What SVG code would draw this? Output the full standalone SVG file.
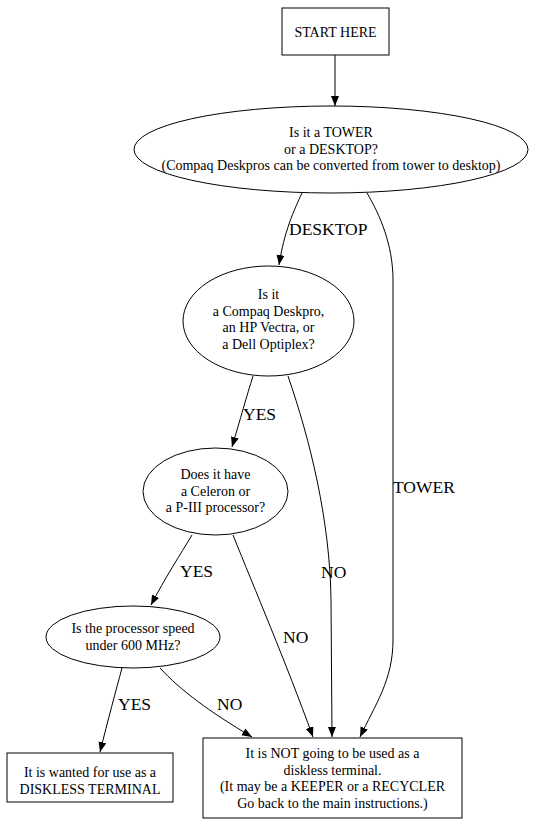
<svg xmlns="http://www.w3.org/2000/svg" width="544" height="826" viewBox="0 0 544 826">
<style>
.n{fill:none;stroke:#000;stroke-width:1}
.t{font-family:'Liberation Serif','Times New Roman','DejaVu Serif',serif;font-size:14px;fill:#000;text-anchor:middle}
.l{font-family:'Liberation Serif','Times New Roman','DejaVu Serif',serif;font-size:17.5px;fill:#000}
.e{fill:none;stroke:#000;stroke-width:1;marker-end:url(#a)}
</style>
<defs>
<marker id="a" markerUnits="userSpaceOnUse" markerWidth="12" markerHeight="10" refX="10" refY="4" orient="auto">
<path d="M0,0 L10,4 L0,8 z" fill="#000"/>
</marker>
</defs>
<rect width="544" height="826" fill="#fff"/>
<g id="edges">
<path class="e" d="M335,55 L335,106"/>
<path class="e" d="M302,193 C294,210 284,232 279,265"/>
<path class="e" d="M367,193 C380,215 393,245 393,280 L393,640 C393,680 375,705 360,737"/>
<path class="e" d="M253,376 C247,395 240,420 232,447"/>
<path class="e" d="M288,376 C310,440 330,520 331,600 L332,737"/>
<path class="e" d="M192,535 C180,555 165,578 151,605"/>
<path class="e" d="M233,535 C255,590 285,660 313,737"/>
<path class="e" d="M122,668 C116,690 108,720 100,752"/>
<path class="e" d="M160,668 C180,690 210,712 252,737"/>
<text class="l" x="289" y="235">DESKTOP</text>
<text class="l" x="393" y="493">TOWER</text>
<text class="l" x="243" y="420">YES</text>
<text class="l" x="321" y="578">NO</text>
<text class="l" x="180" y="577">YES</text>
<text class="l" x="283" y="643">NO</text>
<text class="l" x="118" y="710">YES</text>
<text class="l" x="217" y="710">NO</text>
</g>
<g id="start">
<rect class="n" x="282" y="8" width="107" height="47"/>
<text class="t" x="335.5" y="37">START HERE</text>
</g>
<g id="q1">
<ellipse class="n" cx="331" cy="149.5" rx="197" ry="43.5"/>
<text class="t" x="331" y="137">Is it a TOWER</text>
<text class="t" x="331" y="153.5">or a DESKTOP?</text>
<text class="t" x="331" y="170">(Compaq Deskpros can be converted from tower to desktop)</text>
</g>
<g id="q2">
<ellipse class="n" cx="268.5" cy="321" rx="85.5" ry="55"/>
<text class="t" x="268.5" y="299">Is it</text>
<text class="t" x="268.5" y="315.5">a Compaq Deskpro,</text>
<text class="t" x="268.5" y="332">an HP Vectra, or</text>
<text class="t" x="268.5" y="348.5">a Dell Optiplex?</text>
</g>
<g id="q3">
<ellipse class="n" cx="215.5" cy="491.5" rx="72.5" ry="43.5"/>
<text class="t" x="215.5" y="479">Does it have</text>
<text class="t" x="215.5" y="495.5">a Celeron or</text>
<text class="t" x="215.5" y="512">a P-III processor?</text>
</g>
<g id="q4">
<ellipse class="n" cx="133" cy="637" rx="87" ry="31"/>
<text class="t" x="133" y="633">Is the processor speed</text>
<text class="t" x="133" y="649.5">under 600 MHz?</text>
</g>
<g id="yes">
<rect class="n" x="7" y="753" width="166" height="49"/>
<text class="t" x="90" y="777">It is wanted for use as a</text>
<text class="t" x="90" y="793.5">DISKLESS TERMINAL</text>
</g>
<g id="no">
<rect class="n" x="203" y="738" width="259" height="80"/>
<text class="t" x="332.5" y="758">It is NOT going to be used as a</text>
<text class="t" x="332.5" y="774.5">diskless terminal.</text>
<text class="t" x="332.5" y="791">(It may be a KEEPER or a RECYCLER</text>
<text class="t" x="332.5" y="807.5">Go back to the main instructions.)</text>
</g>
</svg>
